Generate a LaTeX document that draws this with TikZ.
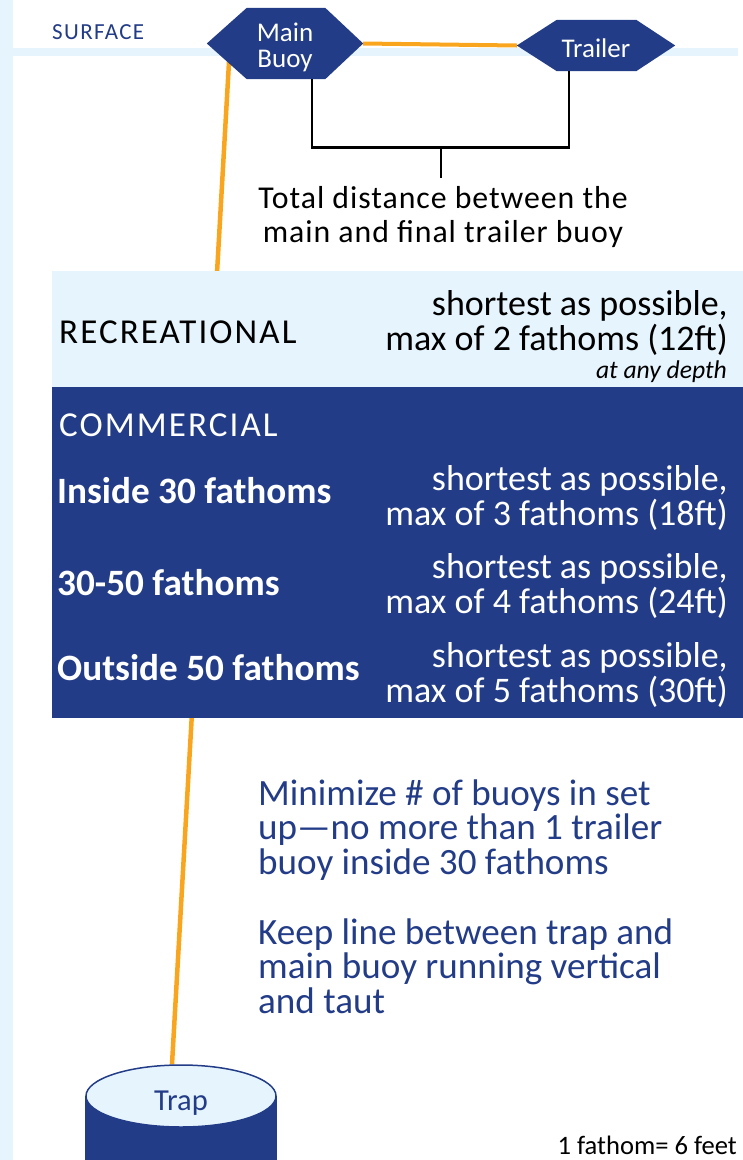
\documentclass[tikz,border=0pt]{standalone}
\usepackage{fontspec}
\setmainfont{Carlito}
\usetikzlibrary{shapes.geometric,backgrounds}
\definecolor{navy}{RGB}{35,60,135}
\definecolor{ice}{RGB}{230,245,253}
\definecolor{ropeorange}{RGB}{249,165,30}

\begin{document}
\begin{tikzpicture}[x=1pt,y=-1pt,
    buoy/.style={inner sep=0pt,text=white,align=center,text depth=0pt,font=\fontsize{27}{26}\selectfont},
    rope/.style={draw=ropeorange,line width=4.5pt},
    bracket/.style={draw=black,line width=2.8pt},
    capslabel/.style={inner sep=0pt,anchor=base west,font=\fontsize{35}{35}\selectfont\addfontfeature{LetterSpace=6}},
    rule/.style={inner sep=0pt,anchor=base east,align=right,font=\fontsize{36}{35}\selectfont},
    zone/.style={inner sep=0pt,anchor=base west,text=white,font=\fontsize{37.2}{37}\selectfont\bfseries},
    tip/.style={inner sep=0pt,anchor=base west,align=left,text=navy,font=\fontsize{37.1}{34.5}\selectfont}]
  \useasboundingbox (0,0) rectangle (743,1160);

  % surface and buoys
  \node[inner sep=0pt,anchor=base west,text=navy,font=\fontsize{23}{23}\selectfont\addfontfeature{LetterSpace=6}] (surface) at (52,39) {SURFACE};
  \node[buoy,minimum width=156pt,minimum height=71pt,text height=47pt] (mainbuoy) at (285,43.5) {Main\\Buoy};
  \node[buoy,minimum width=158pt,minimum height=51pt,text height=23pt] (trailer) at (596,45.5) {Trailer};
  \coordinate (ropetop) at (229,62);

  % distance bracket
  \draw[bracket] ([xshift=27pt]mainbuoy.south) -- ++(0,68) -| ([xshift=-27pt]trailer.south);
  \coordinate (bracketmid) at (441,147);
  \node[inner sep=8pt,anchor=north,align=center,font=\fontsize{31.8}{34}\selectfont\addfontfeature{LetterSpace=3}] (distance) at (443,178) {Total distance between the\\main and final trailer buoy};
  \draw[bracket] (bracketmid) -- (bracketmid |- distance.north);

  % recreational
  \fill[ice] (52,271) rectangle (743,387);
  \node[capslabel] (recreational) at (59,343) {RECREATIONAL};
  \node[rule] (recrule) at (728,350) {shortest as possible,\\max of 2 fathoms (12ft)};
  \node[inner sep=0pt,anchor=base east,font=\fontsize{25.6}{25}\selectfont\itshape] (anydepth) at (727,378) {at any depth};

  % commercial
  \fill[navy] (52,387) rectangle (743,718);
  \node[capslabel,text=white] (commercial) at (59,436) {COMMERCIAL};
  \node[zone] (inside) at (57,503) {Inside 30 fathoms};
  \node[rule,text=white] (insiderule) at (728,525) {shortest as possible,\\max of 3 fathoms (18ft)};
  \node[zone] (middle) at (57,595) {30-50 fathoms};
  \node[rule,text=white] (middlerule) at (728,613) {shortest as possible,\\max of 4 fathoms (24ft)};
  \node[zone] (outside) at (57,680) {Outside 50 fathoms};
  \node[rule,text=white] (outsiderule) at (728,702) {shortest as possible,\\max of 5 fathoms (30ft)};

  % advice
  \node[tip] (fewbuoys) at (258,874) {Minimize \# of buoys in set\\up—no more than 1 trailer\\buoy inside 30 fathoms};
  \node[tip] (keeptaut) at (258,1013) {Keep line between trap and\\main buoy running vertical\\and taut};

  % trap
  \node[ellipse,draw=navy,fill=ice,line width=1.5pt,minimum width=190pt,minimum height=62pt,inner sep=0pt,
        text=navy,text height=28pt,text depth=0pt,font=\fontsize{30.5}{30}\selectfont] (trap) at (181,1096) {Trap};
  \node[inner sep=0pt,anchor=base east,font=\fontsize{26.6}{26}\selectfont] (fathomnote) at (737,1154) {1 fathom= 6 feet};

  \begin{scope}[on background layer]
    \fill[ice] (0,0) rectangle (13,1160);
    \fill[ice] (13,48) rectangle (738,56);
    \draw[rope] (ropetop) -- ([xshift=-9pt]trap.north);
    \draw[rope,line width=4pt] (mainbuoy.east) -- (trailer.west);
    \fill[navy] (mainbuoy.west) -- ([xshift=40pt]mainbuoy.north west) -- ([xshift=-38pt]mainbuoy.north east)
      -- (mainbuoy.east) -- ([xshift=-38pt]mainbuoy.south east) -- ([xshift=40pt]mainbuoy.south west) -- cycle;
    \fill[navy] (trailer.west) -- ([xshift=40pt]trailer.north west) -- ([xshift=-39pt]trailer.north east)
      -- (trailer.east) -- ([xshift=-39pt]trailer.south east) -- ([xshift=40pt]trailer.south west) -- cycle;
    \fill[navy] (trap.west) rectangle ([yshift=-70pt]trap.east);
  \end{scope}
\end{tikzpicture}
\end{document}
